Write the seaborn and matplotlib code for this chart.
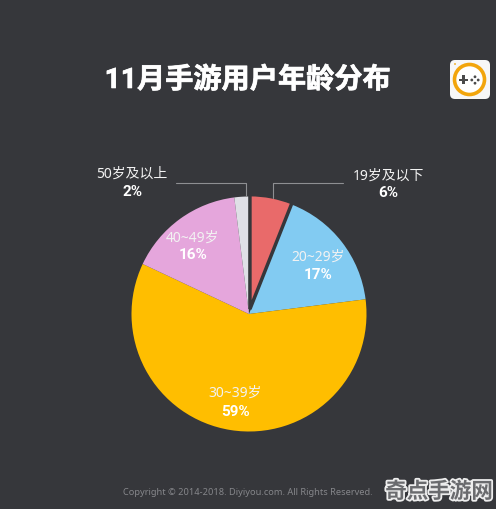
import matplotlib
matplotlib.use("Agg")
import matplotlib.pyplot as plt
import matplotlib.patheffects as pe
from matplotlib.patches import FancyBboxPatch, Circle, Rectangle
import seaborn as sns

categories = ["19岁及以下", "20~29岁", "30~39岁", "40~49岁", "50岁及以上"]
values = [6, 17, 59, 16, 2]
colors = ["#E96A6A", "#82CBF2", "#FFBE00", "#E5A6DC", "#DFE0E6"]
title = "11月手游用户年龄分布"
footer = "Copyright © 2014-2018. Diyiyou.com. All Rights Reserved."
watermark = "奇点手游网"
BG = "#36373B"

sns.set_theme(style="white")
plt.rcParams["font.family"] = ["Noto Sans", "Noto Sans CJK SC", "DejaVu Sans"]
BOLD = ["Roboto", "Noto Sans CJK SC", "DejaVu Sans"]

fig = plt.figure(figsize=(4.96, 5.10), dpi=100, facecolor=BG)
ax = fig.add_axes([0, 0, 1, 1])
ax.set_facecolor(BG)


def Y(y):
    return 510 - y


ax.pie(values, colors=sns.color_palette(colors), startangle=90, counterclock=False,
       explode=[5, 0, 0, 0, 0], center=(249, Y(315)), radius=117.5,
       wedgeprops={"linewidth": 0})
ax.set_xlim(0, 496)
ax.set_ylim(0, 510)
ax.set_aspect("equal")
ax.axis("off")

# red slice is pulled out, with a dark outline cutting into its neighbours
ax.patches[0].set_radius(114.4)
ax.patches[0].set_edgecolor(BG)
ax.patches[0].set_linewidth(2.5)
ax.patches[0].set_zorder(3)

ax.text(248, Y(81), title, color="white", fontsize=20.3, fontweight="bold", family=BOLD,
        ha="center", va="center",
        path_effects=[pe.withStroke(linewidth=0.5, foreground="white")])

labels_xy = [(388, 176, 193), (318, 257, 275), (235, 393, 412), (193, 238, 255), (132, 174, 192)]
for cat, v, (x, y1, y2) in zip(categories, values, labels_xy):
    ax.text(x, Y(y1), cat, color="#F2F2F2", fontsize=10, ha="center", va="center", zorder=5)
    ax.text(x, Y(y2), f"{v}%", color="white", fontsize=11, fontweight="bold", family=BOLD,
            ha="center", va="center", zorder=5)

line_color = "#8E8F92"
ax.plot([343, 273, 273], [Y(184), Y(184), Y(199)], color=line_color, lw=0.8, zorder=4)
ax.plot([176, 246, 246], [Y(184), Y(184), Y(197)], color=line_color, lw=0.8, zorder=4)

# logo
ax.add_patch(FancyBboxPatch((453, Y(97)), 34, 33, boxstyle="round,pad=3,rounding_size=5",
                            fc="#F7F7F7", ec="none"))
ax.add_patch(Circle((469.5, Y(80.5)), 15, fc="white", ec="#F2A50C", lw=2.6))
ax.add_patch(Rectangle((459, Y(81) - 1), 9, 2.4, fc="#4A4A4A", ec="none"))
ax.add_patch(Rectangle((462.4, Y(81) - 4.2), 2.4, 9, fc="#4A4A4A", ec="none"))
for dx, dy in [(0, 3.2), (0, -3.2), (3.2, 0), (-3.2, 0)]:
    ax.add_patch(Circle((475 + dx, Y(81) + dy), 1.4, fc="#4A4A4A", ec="none"))
ax.add_patch(Circle((455, Y(65)), 0.9, fc="#F2A50C", ec="none"))

ax.text(247.5, Y(492.5), footer, color="#85868A", fontsize=6.65, ha="center", va="center")
ax.text(439, Y(493), watermark, color="#6A6B6E", fontsize=15.5, fontweight="bold",
        family=BOLD, ha="center", va="center",
        path_effects=[pe.withStroke(linewidth=2.6, foreground="#EDEDED")])

fig.savefig("out.png", dpi=100, facecolor=BG)
